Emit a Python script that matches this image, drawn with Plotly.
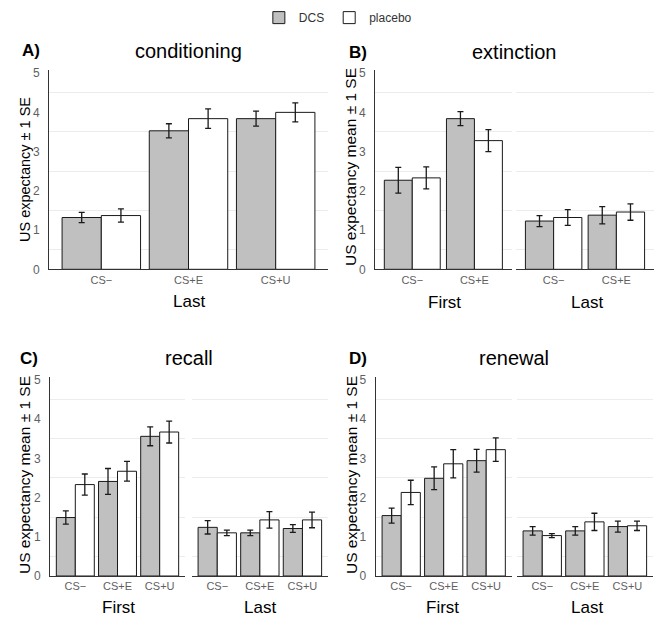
import plotly.graph_objects as go

# kategorie i wartości (średnia i SE)
cats3 = ["CS−", "CS+E", "CS+U"]
cats2 = ["CS−", "CS+E"]

cond_dcs = [1.32, 3.53, 3.84]
cond_dcs_se = [0.13, 0.18, 0.19]
cond_pla = [1.37, 3.84, 4.00]
cond_pla_se = [0.17, 0.25, 0.24]

ext_first_dcs = [2.27, 3.84]
ext_first_dcs_se = [0.33, 0.18]
ext_first_pla = [2.33, 3.28]
ext_first_pla_se = [0.28, 0.28]
ext_last_dcs = [1.23, 1.38]
ext_last_dcs_se = [0.14, 0.22]
ext_last_pla = [1.32, 1.46]
ext_last_pla_se = [0.20, 0.21]

rec_first_dcs = [1.49, 2.41, 3.56]
rec_first_dcs_se = [0.17, 0.33, 0.24]
rec_first_pla = [2.33, 2.67, 3.67]
rec_first_pla_se = [0.27, 0.25, 0.28]
rec_last_dcs = [1.24, 1.10, 1.21]
rec_last_dcs_se = [0.17, 0.07, 0.10]
rec_last_pla = [1.10, 1.43, 1.43]
rec_last_pla_se = [0.07, 0.21, 0.20]

ren_first_dcs = [1.54, 2.49, 2.94]
ren_first_dcs_se = [0.19, 0.29, 0.29]
ren_first_pla = [2.13, 2.86, 3.22]
ren_first_pla_se = [0.31, 0.36, 0.30]
ren_last_dcs = [1.15, 1.15, 1.26]
ren_last_dcs_se = [0.11, 0.11, 0.14]
ren_last_pla = [1.03, 1.38, 1.28]
ren_last_pla_se = [0.05, 0.22, 0.12]

W, H = 669, 624
GRAY = "#c0c0c0"
FONT = "Arial"

# (kategorie, dcs, dcs_se, placebo, placebo_se, x0px, x1px, top_px, zero_px, lewa os?)
facets = [
    (cats3, cond_dcs, cond_dcs_se, cond_pla, cond_pla_se, 49, 328, 70, 269.3, True),
    (cats2, ext_first_dcs, ext_first_dcs_se, ext_first_pla, ext_first_pla_se, 375, 511.7, 70, 269.3, True),
    (cats2, ext_last_dcs, ext_last_dcs_se, ext_last_pla, ext_last_pla_se, 516, 654, 70, 269.3, False),
    (cats3, rec_first_dcs, rec_first_dcs_se, rec_first_pla, rec_first_pla_se, 50, 185, 376.7, 576, True),
    (cats3, rec_last_dcs, rec_last_dcs_se, rec_last_pla, rec_last_pla_se, 191.7, 328, 376.7, 576, False),
    (cats3, ren_first_dcs, ren_first_dcs_se, ren_first_pla, ren_first_pla_se, 375.7, 511.7, 376.7, 576, True),
    (cats3, ren_last_dcs, ren_last_dcs_se, ren_last_pla, ren_last_pla_se, 516.7, 653, 376.7, 576, False),
]

fig = go.Figure()
layout = {}
for i, (cats, dcs, dcs_se, pla, pla_se, x0, x1, top, zero, left) in enumerate(facets):
    n = "" if i == 0 else str(i + 1)
    for name, vals, se, col in [("DCS", dcs, dcs_se, GRAY), ("placebo", pla, pla_se, "white")]:
        fig.add_trace(go.Bar(
            x=cats, y=vals, name=name, legendgroup=name, showlegend=(i == 0),
            marker=dict(color=col, line=dict(color="#1a1a1a", width=1)),
            error_y=dict(type="data", array=se, color="#1a1a1a", thickness=1.3, width=3),
            xaxis="x" + n, yaxis="y" + n, offsetgroup=name,
        ))
    layout["xaxis" + n] = dict(
        domain=[x0 / W, x1 / W], anchor="y" + n, type="category",
        range=[-0.6, len(cats) - 0.4], showline=True, linecolor="#333333", linewidth=1,
        ticks="", ticklen=0, showgrid=False, tickfont=dict(size=11, color="#5f5f5f", family=FONT),
        fixedrange=True,
    )
    layout["yaxis" + n] = dict(
        domain=[1 - zero / H, 1 - top / H], anchor="x" + n,
        range=[0, 5.08], tickvals=[0, 1, 2, 3, 4, 5], showticklabels=left,
        showline=left, linecolor="#333333", linewidth=1, ticks="", ticklen=0, showgrid=False,
        ticklabelstandoff=6,
        zeroline=False, tickfont=dict(size=12, color="#5f5f5f", family=FONT),
        minor=dict(tickvals=[0.5, 1.5, 2.5, 3.5, 4.5], showgrid=True,
                   gridcolor="#ececec", gridwidth=1, ticks=""),
    )

annotations = []


def txt(x, y, s, size, bold=False, angle=0, color="black"):
    annotations.append(dict(
        x=x / W, y=1 - y / H, xref="paper", yref="paper", text=("<b>%s</b>" % s if bold else s),
        showarrow=False, textangle=angle, xanchor="center", yanchor="middle",
        font=dict(size=size, color=color, family=FONT),
    ))


# tytuły paneli
txt(30.5, 50, "A)", 17, bold=True)
txt(357.5, 52, "B)", 17, bold=True)
txt(29, 358, "C)", 17, bold=True)
txt(357.5, 358, "D)", 17, bold=True)
txt(188.5, 51, "conditioning", 20)
txt(514, 52, "extinction", 20)
txt(189, 358, "recall", 20)
txt(514, 358, "renewal", 20)

# osie y
txt(25, 170, "US expectancy ± 1 SE", 14.5, angle=-90)
txt(351, 167, "US expectancy mean ± 1 SE", 15.5, angle=-90)
txt(24, 475, "US expectancy mean ± 1 SE", 15.5, angle=-90)
txt(351, 475, "US expectancy mean ± 1 SE", 15.5, angle=-90)

# etykiety faset
txt(188.5, 301, "Last", 17)
txt(444, 302, "First", 17)
txt(587, 302, "Last", 17)
txt(118, 607, "First", 17)
txt(260, 607, "Last", 17)
txt(443, 607, "First", 17)
txt(587, 607, "Last", 17)

fig.update_layout(
    width=W, height=H, margin=dict(l=0, r=0, t=0, b=0, autoexpand=False),
    paper_bgcolor="white", plot_bgcolor="white",
    barmode="group", bargap=0.1, bargroupgap=0,
    font=dict(family=FONT),
    legend=dict(orientation="h", x=0.505, xanchor="center",
                y=0.995, yanchor="top",
                font=dict(size=12, color="#333333", family=FONT)),
    annotations=annotations,
    **layout,
)

# bez domyślnego marginesu strony (8 px) i bez paska narzędzi
fig.write_html("out.html", config={"displayModeBar": False},
               post_script="document.body.style.margin='0px';")
